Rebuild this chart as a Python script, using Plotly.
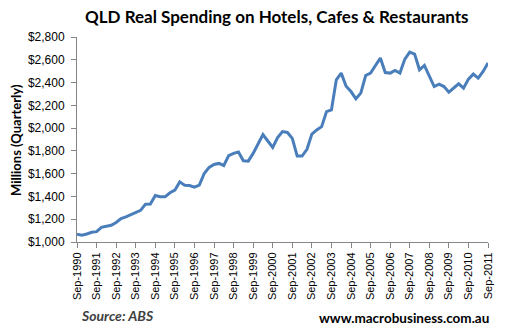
import plotly.graph_objects as go

years = list(range(1990, 2012))

spending = [
    1068, 1059, 1070, 1085, 1091, 1129, 1138, 1147,
    1171, 1206, 1220, 1241, 1255, 1278, 1332, 1334,
    1408, 1397, 1397, 1432, 1455, 1528, 1499, 1496,
    1482, 1499, 1602, 1655, 1681, 1690, 1672, 1759,
    1778, 1790, 1713, 1710, 1778, 1866, 1944, 1887,
    1831, 1916, 1970, 1962, 1910, 1755, 1755, 1814,
    1948, 1984, 2013, 2145, 2160, 2424, 2483, 2368,
    2321, 2257, 2307, 2462, 2483, 2550, 2615, 2488,
    2483, 2506, 2483, 2606, 2668, 2650, 2512, 2550,
    2453, 2365, 2386, 2365, 2316, 2351, 2389, 2351,
    2430, 2474, 2439, 2497, 2571,
]

tick_labels = [f"Sep-{y}" for y in years]
tick_positions = [i * 4 for i in range(len(years))]
y_ticks = list(range(1000, 2801, 200))
y_tick_labels = [f"${v:,}" for v in y_ticks]

fig = go.Figure()
fig.add_trace(go.Scatter(
    x=list(range(len(spending))), y=spending, mode="lines",
    line=dict(color="#4A7EBB", width=3), hoverinfo="skip",
))

axis_color = "#868686"
fig.update_layout(
    width=506, height=330,
    margin=dict(l=77, r=12, t=37, b=88),
    paper_bgcolor="white", plot_bgcolor="white",
    showlegend=False,
    font=dict(family="Liberation Sans, Arial", size=11, color="black"),
    xaxis=dict(
        range=[0, 84], tickmode="array", tickvals=tick_positions, ticktext=tick_labels,
        tickangle=-90, showgrid=False, zeroline=False,
        showline=True, linecolor=axis_color, linewidth=1,
        ticks="outside", ticklen=5, tickcolor=axis_color,
        tickfont=dict(size=11),
    ),
    yaxis=dict(
        range=[1000, 2800], tickmode="array", tickvals=y_ticks, ticktext=y_tick_labels,
        showgrid=False, zeroline=False,
        showline=True, linecolor=axis_color, linewidth=1,
        ticks="outside", ticklen=5, tickcolor=axis_color,
        tickfont=dict(size=12), ticklabelstandoff=4,
    ),
    annotations=[
        dict(text="<b>QLD Real Spending on Hotels, Cafes &amp; Restaurants</b>",
             x=280, y=17, xanchor="center", showarrow=False,
             font=dict(family="Lato", size=17, color="black")),
        dict(text="<b>Millions (Quarterly)</b>", textangle=-90,
             x=15, y=140, xanchor="center", showarrow=False,
             font=dict(family="Lato", size=13, color="black")),
        dict(text="<b><i>Source: ABS</i></b>",
             x=79, y=315, xanchor="left", showarrow=False,
             font=dict(family="Lato", size=14, color="#404040")),
        dict(text="<b>www.macrobusiness.com.au</b>",
             x=497, y=318, xanchor="right", showarrow=False,
             font=dict(family="Lato", size=13.5, color="black")),
    ],
)

# convert pixel positions of annotations into paper coordinates
pw = 506 - 77 - 12
ph = 330 - 37 - 88
for a in fig.layout.annotations:
    px, py = a.x, a.y
    a.x = (px - 77) / pw
    a.y = (330 - 88 - py) / ph
    a.xref = "paper"
    a.yref = "paper"
    a.yanchor = "middle"

fig.write_html("out.html")
